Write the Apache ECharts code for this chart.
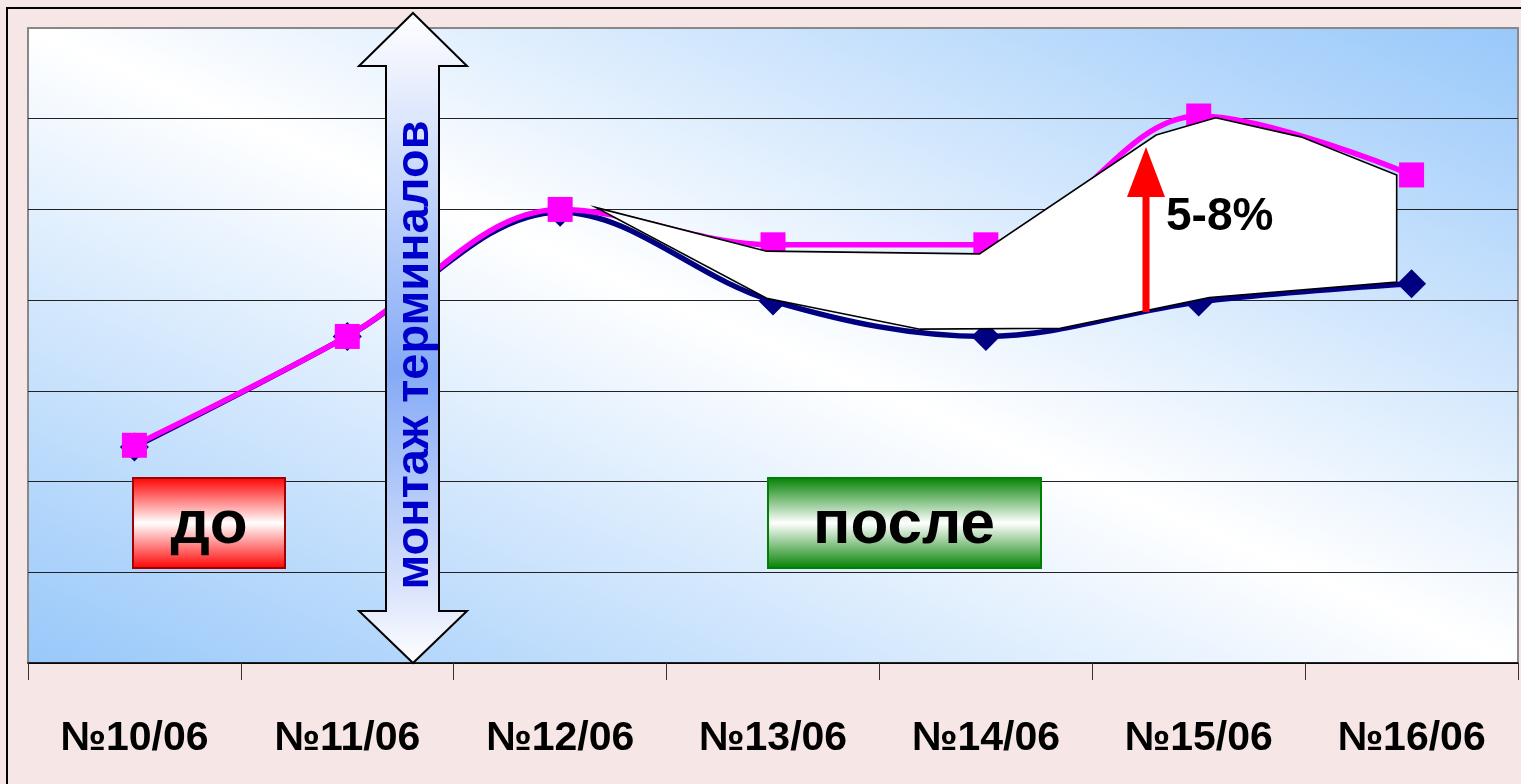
<!DOCTYPE html>
<html>
<head>
<meta charset="utf-8">
<script src="https://cdn.jsdelivr.net/npm/echarts@6/dist/echarts.min.js"></script>
<style>
  html, body { margin: 0; padding: 0; background: #f6e6e6; }
  #chart { width: 1521px; height: 784px; }
</style>
</head>
<body>
<div id="chart"></div>
<script>
// Categories (measurement batches)
const categories = ['№10/06', '№11/06', '№12/06', '№13/06', '№14/06', '№15/06', '№16/06'];

// Upper series (magenta, squares)
const upperValues = [2.40, 3.60, 5.00, 4.61, 4.61, 6.03, 5.38];
// Lower series (navy, diamonds)
const lowerValues = [2.38, 3.60, 4.97, 3.99, 3.60, 3.98, 4.18];

// White gain band between the two curves, in (category position, value) units
const bandX = [2.17, 2.97, 3.97, 4.80, 5.08, 5.48, 5.93, 5.93, 5.05, 4.35, 3.69, 2.97];
const bandV = [5.02, 4.54, 4.51, 5.82, 6.01, 5.80, 5.38, 4.20, 4.03, 3.69, 3.68, 4.02];

// Annotation texts
const installText = 'монтаж терминалов';
const beforeText = 'до';
const afterText = 'после';
const gainText = '5-8%';

const FONT = '"Liberation Sans", Arial, sans-serif';

const chart = echarts.init(document.getElementById('chart'), null, { renderer: 'canvas' });

// Plot background: blue corners, white band along the TL-BR diagonal
const bg = new echarts.graphic.LinearGradient(544, 883, 1002, -192, [
  { offset: 0, color: '#98c8fa' },
  { offset: 0.5, color: '#ffffff' },
  { offset: 1, color: '#98c8fa' }
], true);

const boxGradient = (c) => new echarts.graphic.LinearGradient(0, 0, 0, 1, [
  { offset: 0, color: c },
  { offset: 0.5, color: '#ffffff' },
  { offset: 1, color: c }
]);

const option = {
  backgroundColor: '#f6e6e6',
  animation: false,
  grid: {
    left: 28, top: 28, right: 3, bottom: 121,
    show: true,
    backgroundColor: bg,
    borderColor: '#888888',
    borderWidth: 2
  },
  xAxis: [
    {
      type: 'category',
      data: categories,
      boundaryGap: true,
      axisLine: { lineStyle: { color: '#000', width: 1.5 } },
      axisTick: { show: true, length: 17, lineStyle: { color: '#333', width: 1 } },
      axisLabel: {
        color: '#000', fontWeight: 'bold', fontSize: 41, fontFamily: FONT,
        margin: 55, interval: 0
      },
      splitLine: { show: false }
    },
    { type: 'value', min: -0.5, max: 6.5, show: false }
  ],
  yAxis: {
    type: 'value', min: 0, max: 7, interval: 1,
    axisLabel: { show: false },
    axisLine: { show: false },
    axisTick: { show: false },
    splitLine: { show: true, showMaxLine: false, lineStyle: { color: '#222', width: 1.2 } }
  },
  series: [
    {
      type: 'line',
      data: lowerValues,
      smooth: 0.35,
      z: 2,
      lineStyle: { color: '#000080', width: 5.5 },
      itemStyle: { color: '#000080' },
      symbol: 'diamond',
      symbolSize: 29
    },
    {
      type: 'line',
      data: upperValues,
      smooth: 0.35,
      z: 3,
      lineStyle: { color: '#ff00ff', width: 5.5 },
      itemStyle: { color: '#ff00ff', borderRadius: 3 },
      symbol: 'rect',
      symbolSize: 25
    },
    {
      type: 'custom',
      xAxisIndex: 1,
      yAxisIndex: 0,
      z: 5,
      clip: false,
      data: [[0, 0]],
      renderItem: function (params, api) {
        const pts = bandX.map((x, k) => api.coord([x, bandV[k]]));
        return {
          type: 'polygon',
          shape: { points: pts },
          style: { fill: '#ffffff', stroke: '#000000', lineWidth: 1.6 }
        };
      }
    }
  ],
  graphic: [
    // outer frame
    {
      type: 'rect', z: 1, silent: true,
      shape: { x: 7, y: 8, width: 2000, height: 2000 },
      style: { fill: 'none', stroke: '#000', lineWidth: 2 }
    },
    // double-headed installation arrow
    {
      type: 'polygon', z: 20, silent: true,
      shape: {
        points: [
          [413, 13], [467, 66], [439, 66], [439, 611], [467, 611],
          [413, 663], [359, 611], [386, 611], [386, 66], [359, 66]
        ]
      },
      style: {
        fill: new echarts.graphic.LinearGradient(0, 0, 0, 1, [
          { offset: 0, color: '#ffffff' },
          { offset: 0.12, color: '#e6edfd' },
          { offset: 0.55, color: '#84aaf6' },
          { offset: 0.88, color: '#d8e2fb' },
          { offset: 1, color: '#ffffff' }
        ]),
        stroke: '#000', lineWidth: 2
      }
    },
    {
      type: 'text', z: 21, silent: true,
      x: 415, y: 355, rotation: Math.PI / 2,
      style: {
        text: installText, fill: '#0000cc',
        font: 'bold 47px ' + FONT,
        align: 'center', verticalAlign: 'middle'
      }
    },
    // "before" box
    {
      type: 'rect', z: 20, silent: true,
      shape: { x: 133, y: 478, width: 152, height: 90 },
      style: { fill: boxGradient('#ff0000'), stroke: '#a00000', lineWidth: 2 }
    },
    {
      type: 'text', z: 21, silent: true,
      x: 209, y: 526,
      style: {
        text: beforeText, fill: '#000',
        font: 'bold 62px ' + FONT,
        align: 'center', verticalAlign: 'middle'
      }
    },
    // "after" box
    {
      type: 'rect', z: 20, silent: true,
      shape: { x: 768, y: 478, width: 273, height: 90 },
      style: { fill: boxGradient('#008000'), stroke: '#008000', lineWidth: 2 }
    },
    {
      type: 'text', z: 21, silent: true,
      x: 904, y: 526,
      style: {
        text: afterText, fill: '#000',
        font: 'bold 62px ' + FONT,
        align: 'center', verticalAlign: 'middle'
      }
    },
    // red gain arrow
    {
      type: 'polygon', z: 20, silent: true,
      shape: {
        points: [
          [1146, 147], [1165, 197], [1149.5, 197], [1149.5, 312],
          [1142.5, 312], [1142.5, 197], [1127, 197]
        ]
      },
      style: { fill: '#ff0000' }
    },
    {
      type: 'text', z: 21, silent: true,
      x: 1166, y: 217,
      style: {
        text: gainText, fill: '#000',
        font: 'bold 46px ' + FONT,
        align: 'left', verticalAlign: 'middle'
      }
    }
  ]
};

chart.setOption(option);
</script>
</body>
</html>
